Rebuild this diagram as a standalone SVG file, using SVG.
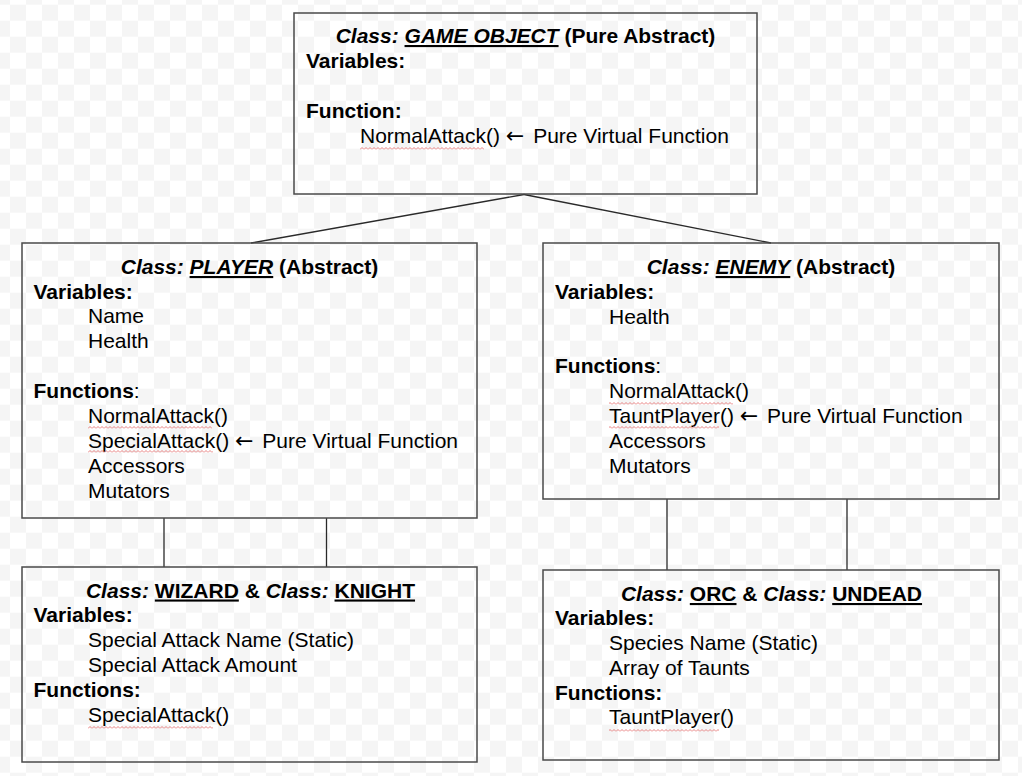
<svg xmlns="http://www.w3.org/2000/svg" width="1022" height="776" viewBox="0 0 1022 776">
<defs>
<pattern id="checker" x="10" y="4.67" width="32" height="32" patternUnits="userSpaceOnUse">
<rect width="32" height="32" fill="#ffffff"/>
<rect width="16" height="16" fill="#f5f5f5"/>
<rect x="16" y="16" width="16" height="16" fill="#f5f5f5"/>
</pattern>
<pattern id="squiggle" width="4" height="3" patternUnits="userSpaceOnUse">
<polyline points="0,2.5 2,0.5 4,2.5" fill="none" stroke="#e57373" stroke-width="0.9"/>
</pattern>
<style>
text { font-family: "Liberation Sans", Arial, sans-serif; font-size: 21px; fill: #000; }
.b { font-weight: bold; }
.i { font-style: italic; }
.u { text-decoration: underline; }
.arr { font-family: "DejaVu Sans", sans-serif; font-size: 22px; }
.title { text-anchor: middle; font-weight: bold; }
.box { fill: none; stroke: #4a4a4a; stroke-width: 1.5; }
.conn { fill: none; stroke: #2a2a2a; stroke-width: 1.3; }
.sq { fill: url(#squiggle); }
</style>
</defs>
<rect id="background" width="1022" height="776" fill="url(#checker)"/>

<g id="connectors">
<line class="conn" x1="524" y1="194.5" x2="251" y2="243"/>
<line class="conn" x1="524" y1="194.5" x2="771" y2="243"/>
<line class="conn" x1="164" y1="518" x2="164" y2="567"/>
<line class="conn" x1="326.5" y1="518" x2="326.5" y2="567"/>
<line class="conn" x1="667" y1="499" x2="667" y2="570"/>
<line class="conn" x1="847" y1="499" x2="847" y2="570"/>
</g>

<g id="game-object">
<rect class="box" x="294" y="13" width="463" height="181"/>
<text class="title" x="525.5" y="43"><tspan class="i">Class: </tspan><tspan class="i u">GAME OBJECT</tspan> (Pure Abstract)</text>
<text class="b" x="306" y="68">Variables:</text>
<text class="b" x="306" y="118">Function:</text>
<text x="360" y="143">NormalAttack() <tspan class="arr">←</tspan><tspan dx="3"> Pure Virtual Function</tspan></text>
<rect class="sq" x="360" y="147" width="124" height="3"/>
</g>

<g id="player">
<rect class="box" x="22" y="243" width="455" height="275"/>
<text class="title" x="249.5" y="274"><tspan class="i">Class: </tspan><tspan class="i u">PLAYER</tspan> (Abstract)</text>
<text class="b" x="33.5" y="299">Variables:</text>
<text x="88" y="323">Name</text>
<text x="88" y="348">Health</text>
<text x="33.5" y="398"><tspan class="b">Functions</tspan>:</text>
<text x="88" y="423">NormalAttack()</text>
<rect class="sq" x="88" y="426" width="124" height="3"/>
<text x="88" y="448">SpecialAttack() <tspan class="arr">←</tspan><tspan dx="3"> Pure Virtual Function</tspan></text>
<rect class="sq" x="88" y="450" width="125" height="3"/>
<text x="88" y="473">Accessors</text>
<text x="88" y="498">Mutators</text>
</g>

<g id="enemy">
<rect class="box" x="543" y="243" width="456" height="256"/>
<text class="title" x="771" y="274"><tspan class="i">Class: </tspan><tspan class="i u">ENEMY</tspan> (Abstract)</text>
<text class="b" x="555" y="299">Variables:</text>
<text x="609" y="324">Health</text>
<text x="555" y="373"><tspan class="b">Functions</tspan>:</text>
<text x="609" y="398">NormalAttack()</text>
<rect class="sq" x="609" y="402" width="124" height="3"/>
<text x="609" y="423">TauntPlayer() <tspan class="arr">←</tspan><tspan dx="3"> Pure Virtual Function</tspan></text>
<rect class="sq" x="609" y="426" width="110" height="3"/>
<text x="609" y="448">Accessors</text>
<text x="609" y="473">Mutators</text>
</g>

<g id="wizard-knight">
<rect class="box" x="22" y="567" width="455" height="195"/>
<text class="title" x="250.5" y="597.5"><tspan class="i">Class: </tspan><tspan class="u">WIZARD</tspan> &amp; <tspan class="i">Class: </tspan><tspan class="u">KNIGHT</tspan></text>
<text class="b" x="33.5" y="622">Variables:</text>
<text x="88" y="647">Special Attack Name (Static)</text>
<text x="88" y="672">Special Attack Amount</text>
<text class="b" x="33.5" y="697">Functions:</text>
<text x="88" y="722">SpecialAttack()</text>
<rect class="sq" x="88" y="726" width="125" height="3"/>
</g>

<g id="orc-undead">
<rect class="box" x="543" y="570" width="456" height="190"/>
<text class="title" x="771.5" y="601"><tspan class="i">Class: </tspan><tspan class="u">ORC</tspan> &amp; <tspan class="i">Class: </tspan><tspan class="u">UNDEAD</tspan></text>
<text class="b" x="555" y="625">Variables:</text>
<text x="609" y="650">Species Name (Static)</text>
<text x="609" y="675">Array of Taunts</text>
<text class="b" x="555" y="699.5">Functions:</text>
<text x="609" y="724">TauntPlayer()</text>
<rect class="sq" x="609" y="729" width="110" height="3"/>
</g>
</svg>
